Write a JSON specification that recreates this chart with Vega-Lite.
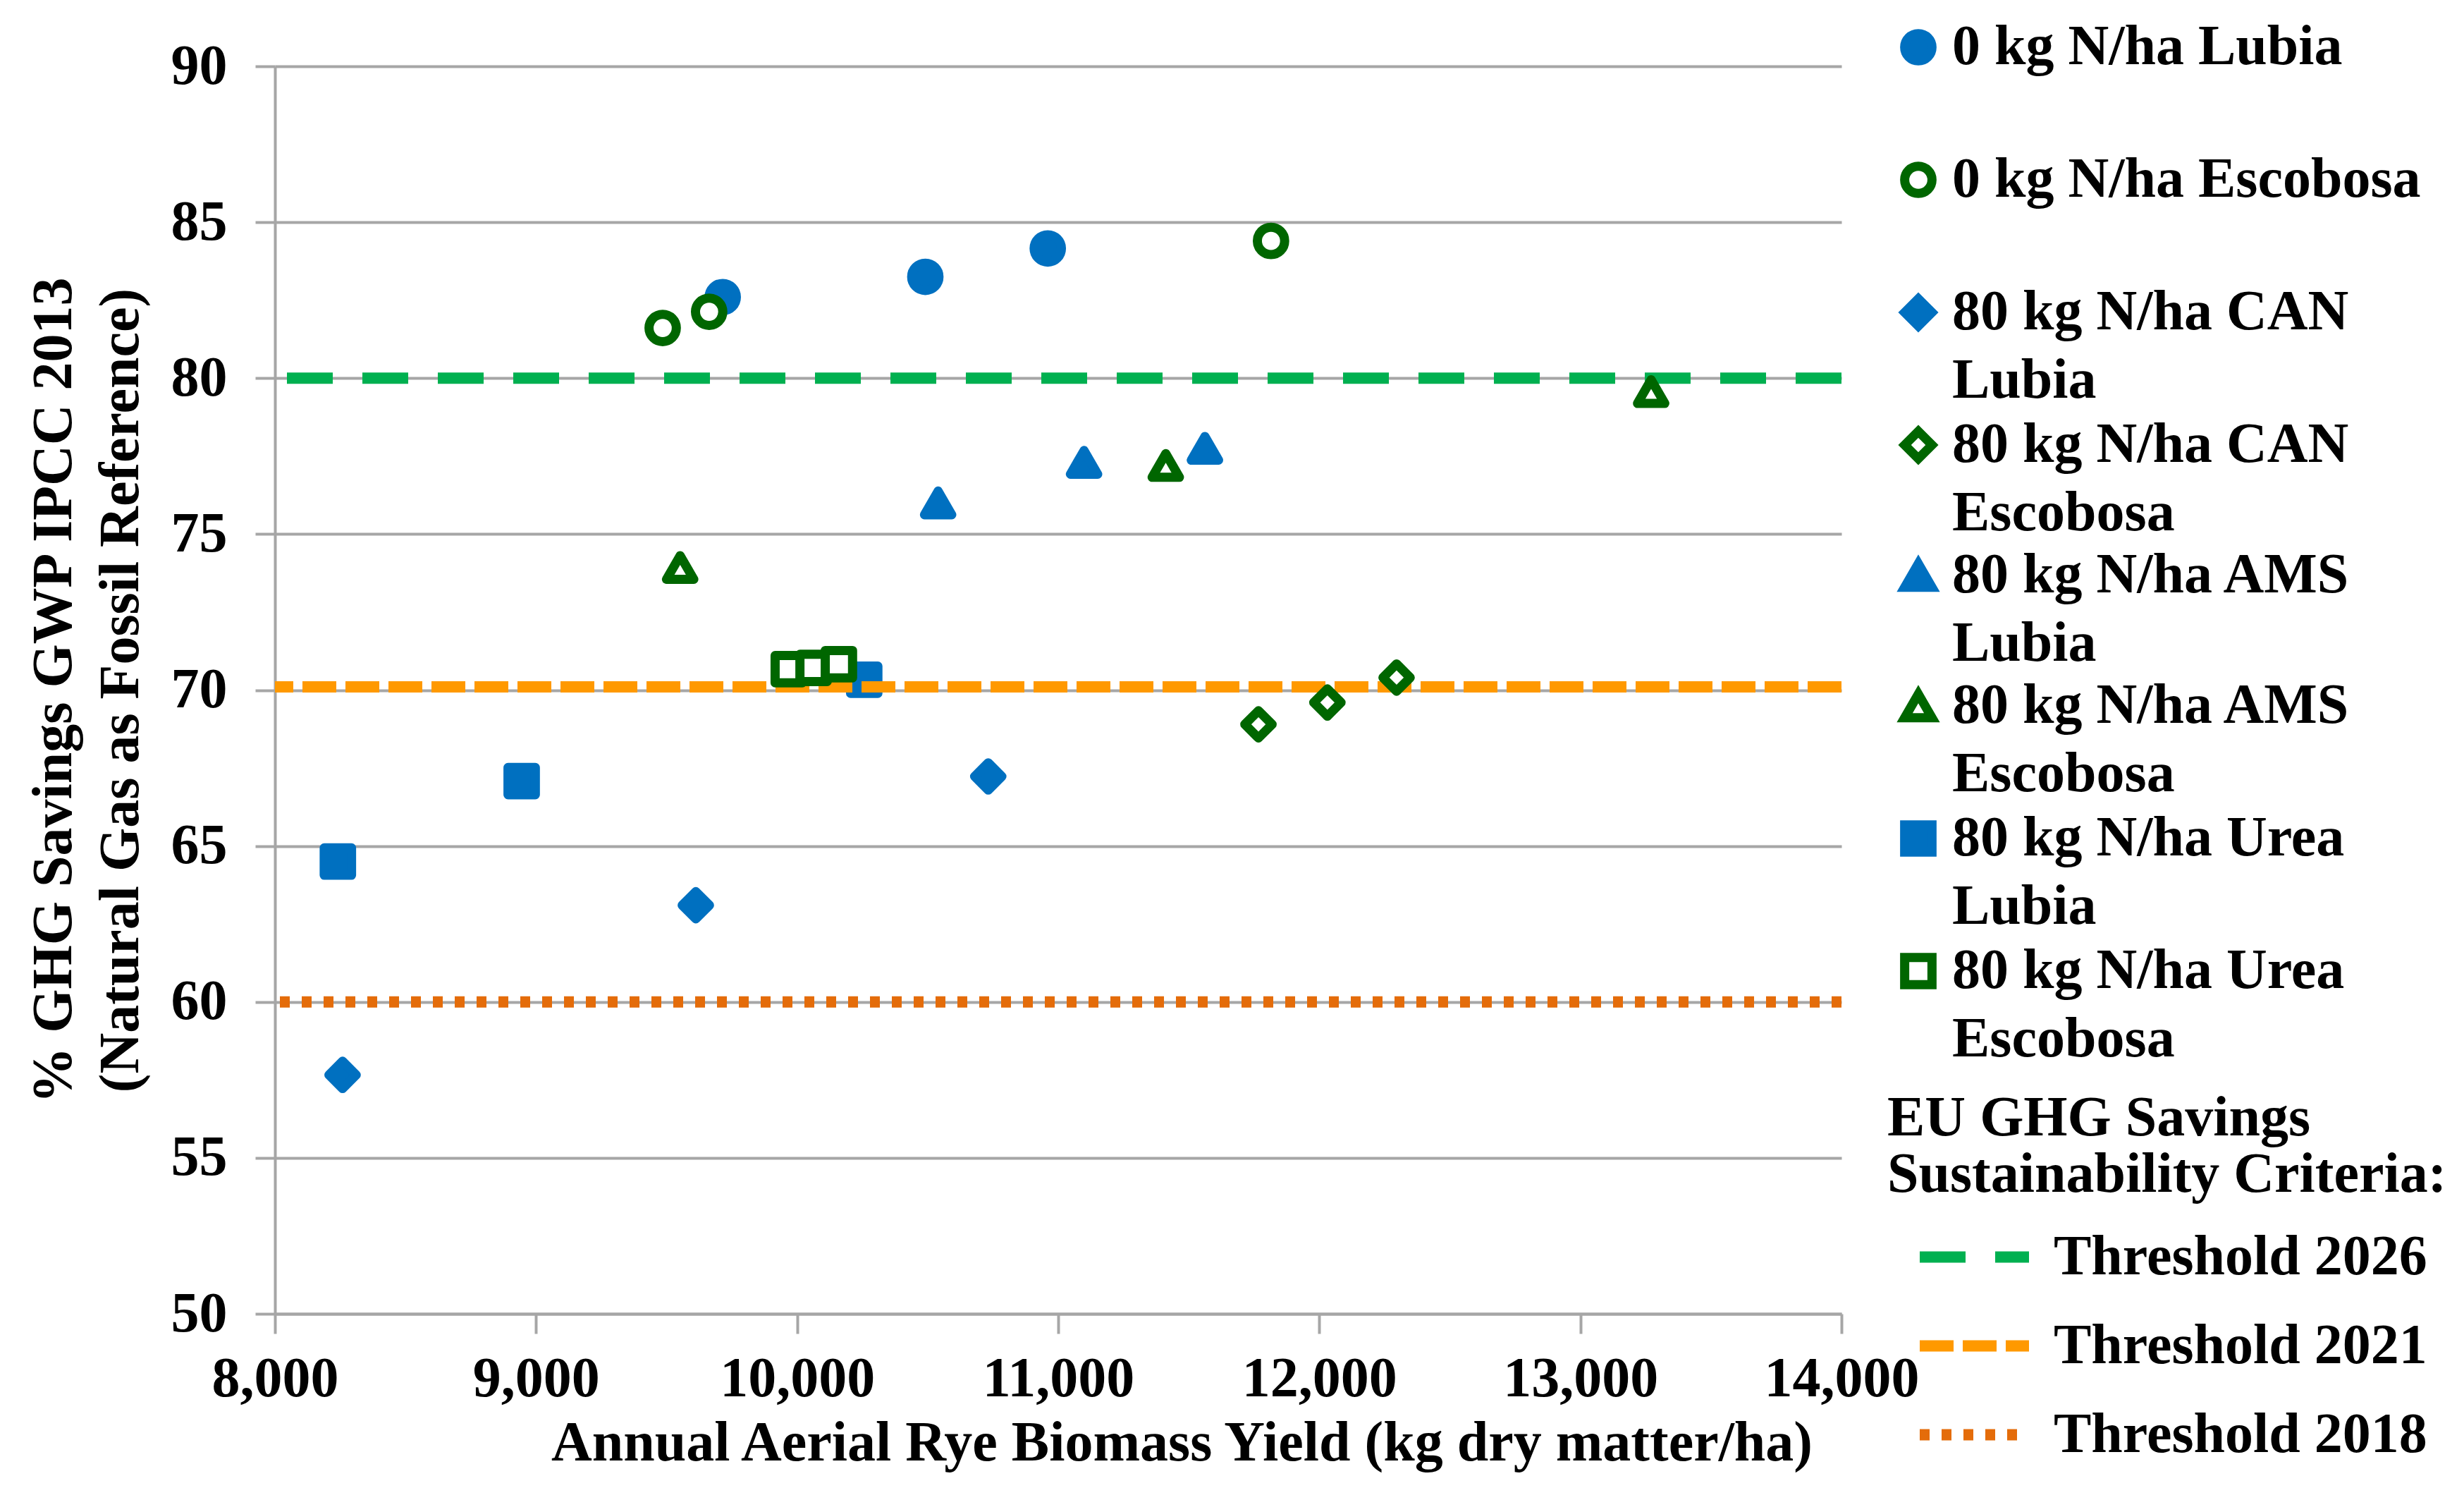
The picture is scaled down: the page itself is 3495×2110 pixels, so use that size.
{
  "$schema": "https://vega.github.io/schema/vega-lite/v6.json",
  "width": 2222,
  "height": 1769,
  "autosize": "none",
  "padding": {"left": 390, "top": 94, "right": 883, "bottom": 247},
  "background": "white",
  "datasets": {
    "points": [
      {"series": "0 kg N/ha Lubia", "site": "Lubia", "yield": 9715, "pct": 82.6},
      {"series": "0 kg N/ha Lubia", "site": "Lubia", "yield": 10491, "pct": 83.25},
      {"series": "0 kg N/ha Lubia", "site": "Lubia", "yield": 10960, "pct": 84.16},
      {"series": "0 kg N/ha Escobosa", "site": "Escobosa", "yield": 9485, "pct": 81.61},
      {"series": "0 kg N/ha Escobosa", "site": "Escobosa", "yield": 9663, "pct": 82.13},
      {"series": "0 kg N/ha Escobosa", "site": "Escobosa", "yield": 11815, "pct": 84.4},
      {"series": "80 kg N/ha CAN Lubia", "site": "Lubia", "yield": 8259, "pct": 57.66},
      {"series": "80 kg N/ha CAN Lubia", "site": "Lubia", "yield": 9612, "pct": 63.1},
      {"series": "80 kg N/ha CAN Lubia", "site": "Lubia", "yield": 10732, "pct": 67.23},
      {"series": "80 kg N/ha CAN Escobosa", "site": "Escobosa", "yield": 11767, "pct": 68.9},
      {"series": "80 kg N/ha CAN Escobosa", "site": "Escobosa", "yield": 12031, "pct": 69.6},
      {"series": "80 kg N/ha CAN Escobosa", "site": "Escobosa", "yield": 12296, "pct": 70.4},
      {"series": "80 kg N/ha AMS Lubia", "site": "Lubia", "yield": 10540, "pct": 76.0},
      {"series": "80 kg N/ha AMS Lubia", "site": "Lubia", "yield": 11099, "pct": 77.3},
      {"series": "80 kg N/ha AMS Lubia", "site": "Lubia", "yield": 11562, "pct": 77.75},
      {"series": "80 kg N/ha AMS Escobosa", "site": "Escobosa", "yield": 9552, "pct": 73.93},
      {"series": "80 kg N/ha AMS Escobosa", "site": "Escobosa", "yield": 11412, "pct": 77.2},
      {"series": "80 kg N/ha AMS Escobosa", "site": "Escobosa", "yield": 13271, "pct": 79.57},
      {"series": "80 kg N/ha Urea Lubia", "site": "Lubia", "yield": 8241, "pct": 64.5},
      {"series": "80 kg N/ha Urea Lubia", "site": "Lubia", "yield": 8945, "pct": 67.08},
      {"series": "80 kg N/ha Urea Lubia", "site": "Lubia", "yield": 10257, "pct": 70.33},
      {"series": "80 kg N/ha Urea Escobosa", "site": "Escobosa", "yield": 9968, "pct": 70.67},
      {"series": "80 kg N/ha Urea Escobosa", "site": "Escobosa", "yield": 10063, "pct": 70.71},
      {"series": "80 kg N/ha Urea Escobosa", "site": "Escobosa", "yield": 10160, "pct": 70.83}
    ],
    "thresholds": [
      {"threshold": "Threshold 2026", "pct": 80},
      {"threshold": "Threshold 2021", "pct": 70.1},
      {"threshold": "Threshold 2018", "pct": 60}
    ]
  },
  "config": {
    "font": "Liberation Serif",
    "view": {"stroke": null},
    "style": {"guide-label": {"lineHeight": 97}},
    "axis": {
      "labelFont": "Liberation Serif", "labelFontWeight": "bold", "labelFontSize": 80, "labelColor": "black", "labelLimit": 1000,
      "titleFont": "Liberation Serif", "titleFontWeight": "bold", "titleFontSize": 80, "titleColor": "black", "titleLimit": 3000,
      "domainColor": "#A6A6A6", "domainWidth": 4, "tickColor": "#A6A6A6", "tickWidth": 4, "tickSize": 28,
      "gridColor": "#A6A6A6", "gridWidth": 4
    },
    "legend": {
      "labelFont": "Liberation Serif", "labelFontWeight": "bold", "labelFontSize": 80, "labelColor": "black",
      "titleFont": "Liberation Serif", "titleFontWeight": "bold", "titleFontSize": 80, "titleColor": "black",
      "labelLimit": 0, "titleLimit": 0
    }
  },
  "layer": [
    {
      "data": {"name": "points"},
      "transform": [{"filter": {"field": "site", "equal": "Lubia"}}],
      "mark": {"type": "point", "strokeWidth": 13, "opacity": 1, "fillOpacity": 1, "strokeOpacity": 1, "strokeJoin": "round"},
      "encoding": {
        "x": {"field": "yield", "type": "quantitative", "scale": {"domain": [8000, 14000], "nice": false, "zero": false},
              "axis": {"title": "Annual Aerial Rye Biomass Yield (kg dry matter/ha)", "values": [8000, 9000, 10000, 11000, 12000, 13000, 14000], "format": ",d", "grid": false, "labelPadding": 25, "labelFlush": false, "labelOverlap": false, "titleX": 1286, "titleY": 207, "titleBaseline": "alphabetic", "titleAnchor": "start", "titleAlign": "center"}},
        "y": {"field": "pct", "type": "quantitative", "scale": {"domain": [50, 90], "nice": false, "zero": false},
              "axis": {"title": ["% GHG Savings GWP IPCC 2013", "(Natural Gas as Fossil Reference)"], "values": [50, 55, 60, 65, 70, 75, 80, 85, 90], "grid": true, "labelPadding": 40, "titlePadding": 30, "titleLineHeight": 95}},
        "shape": {"field": "series", "type": "nominal",
          "scale": {"domain": ["0 kg N/ha Lubia", "0 kg N/ha Escobosa", "80 kg N/ha CAN Lubia", "80 kg N/ha CAN Escobosa", "80 kg N/ha AMS Lubia", "80 kg N/ha AMS Escobosa", "80 kg N/ha Urea Lubia", "80 kg N/ha Urea Escobosa"],
                    "range": ["circle", "circle", "diamond", "diamond", "triangle-up", "triangle-up", "square", "square"]},
          "legend": {"orient": "none", "legendX": 2291, "legendY": -67, "title": null, "symbolStrokeWidth": 13, "symbolOpacity": 1, "labelOffset": 8, "rowPadding": 5,
                     "labelExpr": "substring(datum.label, 0, 2) == '80' ? (substring(datum.label, length(datum.label) - 5) == 'Lubia' ? [replace(datum.label, ' Lubia', ''), 'Lubia'] : [replace(datum.label, ' Escobosa', ''), 'Escobosa']) : [datum.label, '']"}},
        "stroke": {"field": "series", "type": "nominal",
          "scale": {"domain": ["0 kg N/ha Lubia", "0 kg N/ha Escobosa", "80 kg N/ha CAN Lubia", "80 kg N/ha CAN Escobosa", "80 kg N/ha AMS Lubia", "80 kg N/ha AMS Escobosa", "80 kg N/ha Urea Lubia", "80 kg N/ha Urea Escobosa"],
                    "range": ["#0070C0", "#006600", "#0070C0", "#006600", "#0070C0", "#006600", "#0070C0", "#006600"]}},
        "fill": {"field": "series", "type": "nominal",
          "scale": {"domain": ["0 kg N/ha Lubia", "0 kg N/ha Escobosa", "80 kg N/ha CAN Lubia", "80 kg N/ha CAN Escobosa", "80 kg N/ha AMS Lubia", "80 kg N/ha AMS Escobosa", "80 kg N/ha Urea Lubia", "80 kg N/ha Urea Escobosa"],
                    "range": ["#0070C0", "#FFFFFF", "#0070C0", "#FFFFFF", "#0070C0", "#FFFFFF", "#0070C0", "#FFFFFF"]}},
        "size": {"field": "series", "type": "nominal",
          "scale": {"domain": ["0 kg N/ha Lubia", "0 kg N/ha Escobosa", "80 kg N/ha CAN Lubia", "80 kg N/ha CAN Escobosa", "80 kg N/ha AMS Lubia", "80 kg N/ha AMS Escobosa", "80 kg N/ha Urea Lubia", "80 kg N/ha Urea Escobosa"],
                    "range": [1500, 1500, 1100, 1100, 1300, 1300, 1600, 1600]}}
      }
    },
    {
      "data": {"name": "thresholds"},
      "mark": {"type": "rule", "strokeWidth": 16},
      "encoding": {
        "y": {"field": "pct", "type": "quantitative"},
        "color": {"field": "threshold", "type": "nominal",
          "scale": {"domain": ["Threshold 2026", "Threshold 2021", "Threshold 2018"], "range": ["#00B050", "#FF9900", "#E46C0A"]},
          "legend": {"orient": "none", "legendX": 2287, "legendY": 1453, "title": ["EU GHG Savings", "Sustainability Criteria:"], "titleLineHeight": 80, "titlePadding": -10,
                     "symbolType": "stroke", "symbolSize": 24025, "symbolStrokeWidth": 16, "symbolOffset": 38, "labelOffset": 27, "rowPadding": -8}},
        "strokeDash": {"field": "threshold", "type": "nominal",
          "scale": {"domain": ["Threshold 2026", "Threshold 2021", "Threshold 2018"], "range": [[65, 42], [48, 13], [14, 17]]}}
      }
    },
    {
      "data": {"name": "points"},
      "transform": [{"filter": {"field": "site", "equal": "Escobosa"}}],
      "mark": {"type": "point", "strokeWidth": 13, "opacity": 1, "fillOpacity": 1, "strokeOpacity": 1, "strokeJoin": "round"},
      "encoding": {
        "x": {"field": "yield", "type": "quantitative"},
        "y": {"field": "pct", "type": "quantitative"},
        "shape": {"field": "series", "type": "nominal"},
        "stroke": {"field": "series", "type": "nominal"},
        "fill": {"field": "series", "type": "nominal"},
        "size": {"field": "series", "type": "nominal"}
      }
    }
  ]
}
